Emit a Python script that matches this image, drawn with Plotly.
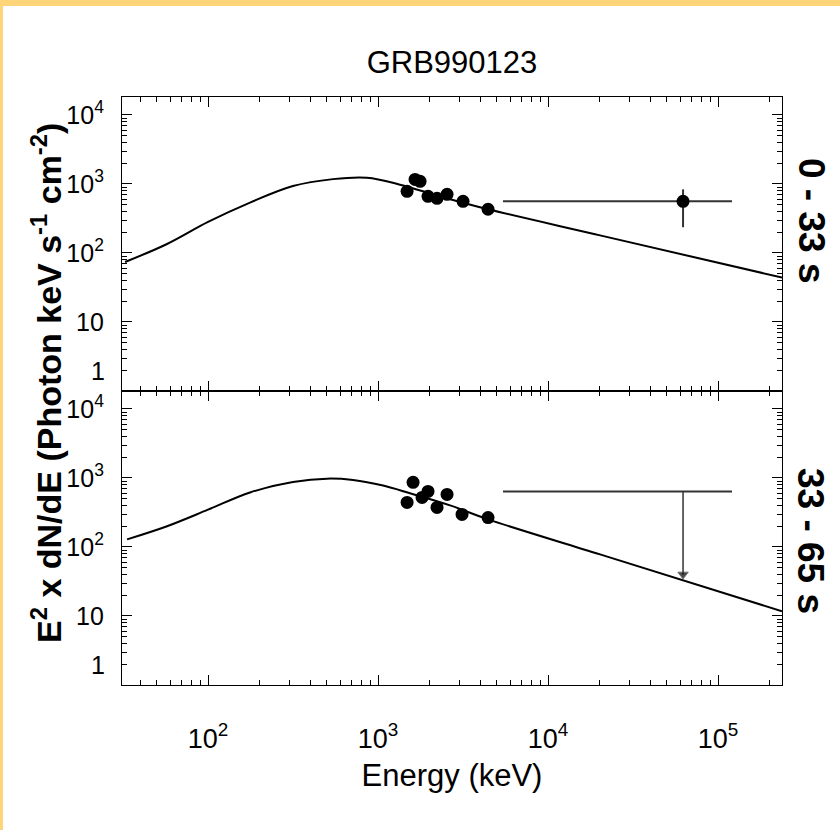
import plotly.graph_objects as go
from plotly.subplots import make_subplots

# ---------------- data ----------------
# Model curve, 0 - 33 s  (E^2 dN/dE)
model1_energy = [32.5, 57.4, 100, 176.6, 316, 543, 861, 1346, 2317, 4437, 20230, 237700]
model1_flux = [74, 135, 282, 537, 933, 1175, 1230, 977, 661, 430, 180, 44]

# Model curve, 33 - 65 s
model2_energy = [33.4, 57.4, 100, 176.6, 316, 501, 713, 1070, 1542, 2653, 4437, 20220, 237700]
model2_flux = [129, 200, 347, 617, 871, 977, 933, 776, 600, 400, 251, 78, 11.7]

# Data points, 0 - 33 s
data1_energy = [1482, 1651, 1767, 1968, 2223, 2546, 3162, 4437]
data1_flux = [782, 1164, 1092, 662, 620, 708, 561, 430]

# High-energy point, 0 - 33 s
he1_energy = [62230]
he1_flux = [561]
he1_energy_lo = [5432]
he1_energy_hi = [120800]
he1_flux_lo = [236]
he1_flux_hi = [836]

# Data points, 33 - 65 s
data2_energy = [1482, 1607, 1815, 1968, 2223, 2546, 3119, 4437]
data2_flux = [442, 863, 522, 638, 374, 578, 296, 267]

# Upper limit, 33 - 65 s
ul2_energy = [62230]
ul2_flux = [638]
ul2_energy_lo = [5432]
ul2_energy_hi = [120800]
ul2_arrow_tip = [40]

# Axis ticks
y_tickvals = [1, 10, 100, 1000, 10000]
y_ticktext = ["", "10", "10<sup>2</sup>", "10<sup>3</sup>", "10<sup>4</sup>"]
x_tickvals = [100, 1000, 10000, 100000]
x_ticktext = ["10<sup>2</sup>", "10<sup>3</sup>", "10<sup>4</sup>", "10<sup>5</sup>"]
panel_labels = ["0 - 33 s", "33 - 65 s"]

# ---------------- figure ----------------
SANS = "Liberation Sans, Arial, Helvetica, sans-serif"
YTICK_SIZE = 25
XTICK_SIZE = 27

fig = make_subplots(rows=2, cols=1, shared_xaxes=True, vertical_spacing=0)

marker_style = dict(color="black", size=13, symbol="circle")

# Panel 1
fig.add_trace(go.Scatter(x=model1_energy, y=model1_flux, mode="lines",
                         line=dict(color="black", width=2, shape="spline"),
                         showlegend=False), row=1, col=1)
fig.add_trace(go.Scatter(x=data1_energy, y=data1_flux, mode="markers",
                         marker=marker_style, showlegend=False), row=1, col=1)
fig.add_trace(go.Scatter(
    x=he1_energy, y=he1_flux, mode="markers", marker=marker_style,
    error_x=dict(type="data", symmetric=False,
                 array=[h - e for h, e in zip(he1_energy_hi, he1_energy)],
                 arrayminus=[e - l for e, l in zip(he1_energy, he1_energy_lo)],
                 color="#333333", thickness=2, width=0),
    error_y=dict(type="data", symmetric=False,
                 array=[h - f for h, f in zip(he1_flux_hi, he1_flux)],
                 arrayminus=[f - l for f, l in zip(he1_flux, he1_flux_lo)],
                 color="#333333", thickness=2, width=0),
    showlegend=False), row=1, col=1)

# Panel 2
fig.add_trace(go.Scatter(x=model2_energy, y=model2_flux, mode="lines",
                         line=dict(color="black", width=2, shape="spline"),
                         showlegend=False), row=2, col=1)
fig.add_trace(go.Scatter(x=data2_energy, y=data2_flux, mode="markers",
                         marker=marker_style, showlegend=False), row=2, col=1)
# upper limit: horizontal bar
fig.add_trace(go.Scatter(x=[ul2_energy_lo[0], ul2_energy_hi[0]], y=[ul2_flux[0], ul2_flux[0]],
                         mode="lines", line=dict(color="#333333", width=2),
                         showlegend=False), row=2, col=1)
# upper limit: arrow
fig.add_trace(go.Scatter(x=[ul2_energy[0], ul2_energy[0]], y=[ul2_flux[0], ul2_arrow_tip[0]],
                         mode="lines+markers", line=dict(color="#333333", width=1.5),
                         marker=dict(symbol=["circle", "triangle-down"], size=[0, 9],
                                     color="black"),
                         showlegend=False), row=2, col=1)

# axes
y_minor = [k * 10 ** d for d in range(0, 5) for k in range(2, 10)]
x_minor = [k * 10 ** d for d in range(1, 6) for k in range(2, 10)]

common = dict(type="log", showline=True, linecolor="black", linewidth=1.2,
              mirror="ticks", ticks="inside", ticklen=10, tickwidth=1.2,
              tickcolor="black", showgrid=False, zeroline=False)

for r in (1, 2):
    fig.update_yaxes(range=[0, 4.26], tickmode="array", tickvals=y_tickvals,
                     ticktext=y_ticktext,
                     tickfont=dict(family=SANS, size=YTICK_SIZE, color="black"),
                     ticklabelstandoff=12,
                     minor=dict(ticks="inside", ticklen=5, tickwidth=1,
                                tickcolor="black", tickmode="array",
                                tickvals=y_minor, showgrid=False),
                     row=r, col=1, **common)
    fig.update_xaxes(range=[1.494, 5.376], tickmode="array", tickvals=x_tickvals,
                     ticktext=x_ticktext,
                     tickfont=dict(family=SANS, size=XTICK_SIZE, color="black"),
                     minor=dict(ticks="inside", ticklen=5, tickwidth=1,
                                tickcolor="black", tickmode="array",
                                tickvals=x_minor, showgrid=False),
                     row=r, col=1, **common)

fig.update_xaxes(showticklabels=False, row=1, col=1)
fig.update_xaxes(ticklabelstandoff=29,
                 title=dict(text="Energy (keV)", standoff=11,
                            font=dict(family=SANS, size=31, color="black")),
                 row=2, col=1)

annotations = []
# "1" tick labels placed just above the panel bottoms
for yref in ("y", "y2"):
    annotations.append(dict(text="1", xref="paper", yref=yref, x=0, y=0,
                            xanchor="right", yanchor="middle", xshift=-15, yshift=20,
                            showarrow=False,
                            font=dict(family=SANS, size=YTICK_SIZE, color="black")))
# y axis title
annotations.append(dict(
    text="E<sup>2</sup> x dN/dE (Photon keV s<sup>-1</sup> cm<sup>-2</sup>)",
    xref="paper", yref="paper", x=(46 - 122) / 660, y=(685 - 383) / 588,
    textangle=-90, showarrow=False, xanchor="center", yanchor="middle",
    font=dict(family=SANS, size=34, color="black", weight="bold")))
# panel labels on the right
for lab, ypx in zip(panel_labels, (220, 541)):
    annotations.append(dict(text=lab, xref="paper", yref="paper",
                            x=(811 - 122) / 660, y=(685 - ypx) / 588,
                            textangle=90, showarrow=False, xanchor="center",
                            yanchor="middle",
                            font=dict(family=SANS, size=37, color="black",
                                      weight="bold")))

border_color = "rgb(255,213,121)"
shapes = [
    dict(type="rect", xref="paper", yref="paper", layer="above",
         x0=-0.3, x1=1.3, y0=1 + (97 - 6) / 588, y1=1.3,
         fillcolor=border_color, line=dict(width=0)),
    dict(type="rect", xref="paper", yref="paper", layer="above",
         x0=-0.3, x1=(3 - 122) / 660, y0=-0.4, y1=1.3,
         fillcolor=border_color, line=dict(width=0)),
]

fig.update_layout(
    width=840, height=830, autosize=False,
    margin=dict(l=122, r=58, t=97, b=145),
    paper_bgcolor="white", plot_bgcolor="white",
    title=dict(text="GRB990123", x=0.5, xref="paper", xanchor="center",
               y=1 - 62 / 830, yref="container", yanchor="middle",
               font=dict(family=SANS, size=31, color="black")),
    annotations=annotations, shapes=shapes,
    showlegend=False,
)

fig.write_html("out.html", config={"displayModeBar": False},
               post_script="document.body.style.margin='0';document.body.style.overflow='hidden';")
